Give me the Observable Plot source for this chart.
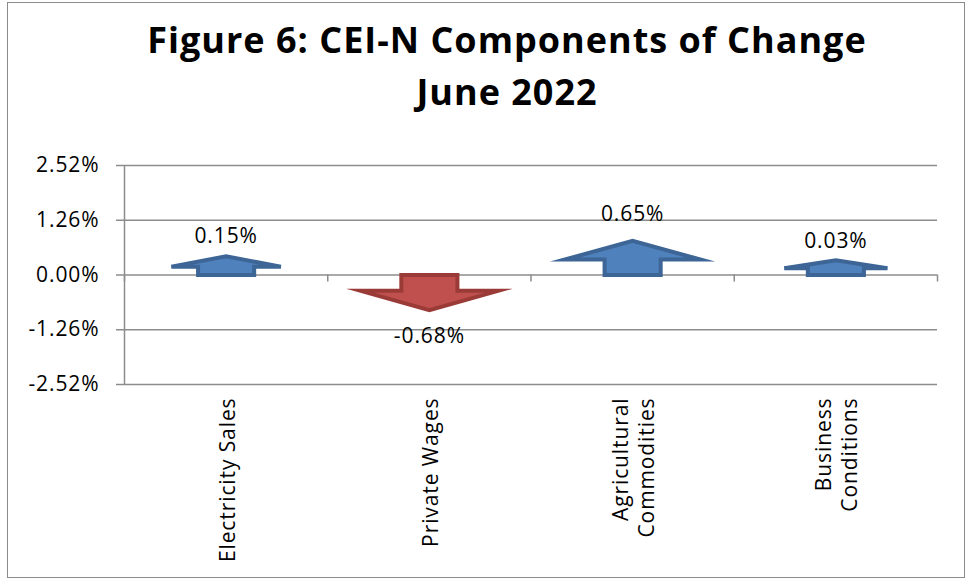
<!DOCTYPE html>
<html>
<head>
<meta charset="utf-8">
<script src="https://cdn.jsdelivr.net/npm/d3@7"></script>
<script src="https://cdn.jsdelivr.net/npm/@observablehq/plot@0.6"></script>
<style>
  html, body { margin: 0; padding: 0; background: #fff; }
  #wrap { position: relative; width: 969px; height: 579px; overflow: hidden; font-family: "Open Sans", sans-serif; }
  #frame { position: absolute; left: 7px; top: 2px; width: 958px; height: 576px; border: 1px solid #8c8c8c; box-sizing: border-box; }
  #title { position: absolute; left: 0; top: 14px; width: 1014px; text-align: center; font-weight: bold; font-size: 36px; letter-spacing: 1px; line-height: 52px; color: #000; }
  #chart { position: absolute; left: 0; top: 130px; }
</style>
</head>
<body>
<div id="wrap">
  <div id="frame"></div>
  <div id="title">Figure 6: CEI-N Components of Change<br>June 2022</div>
  <div id="chart"></div>
</div>
<script>
const categories = ["Electricity Sales", "Private Wages", "Agricultural Commodities", "Business Conditions"];
const tickLabels = ["Electricity Sales", "Private Wages", "Agricultural\nCommodities", "Business\nConditions"];
const values = [0.15, -0.68, 0.65, 0.03];
const yTicks = [-2.52, -1.26, 0, 1.26, 2.52];

// Build block-arrow outlines from each value (decorative shape scaled by value)
const arrows = [];
values.forEach((v, i) => {
  const s = v >= 0 ? 1 : -1, a = Math.abs(v), c = i + 0.5;
  const tip = s * (0.32 + 0.72 * a);
  const base = tip - s * 0.55 * Math.abs(tip);
  const hh = 0.25 + 0.13 * a, hs = 0.138;
  const pts = [[c - hs, 0], [c - hs, base], [c - hh, base], [c, tip], [c + hh, base], [c + hs, base], [c + hs, 0]];
  pts.forEach(([x, y]) => arrows.push({cat: categories[i], up: v >= 0, x, y}));
});

const table = categories.map((c, i) => ({cat: c, x: i + 0.5, v: values[i]}));
const pxPerUnit = 219 / 5.04;
const fs = 21;

const chart = Plot.plot({
  width: 969,
  height: 449,
  marginTop: 35,
  marginBottom: 195,
  marginLeft: 124,
  marginRight: 32,
  style: {fontFamily: "'Open Sans', sans-serif", letterSpacing: "0.9px", color: "#000", background: "transparent", overflow: "visible"},
  x: {domain: [0, categories.length], axis: null},
  y: {domain: [-2.52, 2.52], axis: null},
  marks: [
    Plot.ruleY(yTicks, {stroke: "#8c8c8c", strokeWidth: 1.5}),
    Plot.ruleX([0], {y1: -2.52, y2: 2.52, stroke: "#8c8c8c", strokeWidth: 1.5}),
    Plot.ruleX(d3.range(categories.length + 1), {y1: 0, y2: -7 / pxPerUnit, stroke: "#8c8c8c", strokeWidth: 1.5}),
    Plot.axisY({ticks: yTicks, tickFormat: d => d.toFixed(2) + "%", tickSize: 8, tickPadding: 17, stroke: "#8c8c8c", strokeWidth: 1.5, fill: "#000", fontSize: fs, label: null}),
    Plot.line(arrows.filter(d => d.up), {x: "x", y: "y", z: "cat", curve: "linear-closed", fill: "#4F81BD", stroke: "#3D6596", strokeWidth: 4, strokeLinejoin: "miter", strokeMiterlimit: 10}),
    Plot.line(arrows.filter(d => !d.up), {x: "x", y: "y", z: "cat", curve: "linear-closed", fill: "#C0504D", stroke: "#9B3B38", strokeWidth: 4, strokeLinejoin: "miter", strokeMiterlimit: 10}),
    Plot.text(table.filter(d => d.v >= 0), {x: "x", y: "v", text: d => d.v.toFixed(2) + "%", dy: -32, fontSize: fs, fill: "#000"}),
    Plot.text(table.filter(d => d.v < 0), {x: "x", y: "v", text: d => d.v.toFixed(2) + "%", dy: 32, fontSize: fs, fill: "#000"}),
    Plot.axisX({ticks: table.map(d => d.x), tickFormat: (d) => tickLabels[Math.floor(d)], tickSize: 0, tickPadding: 13, tickRotate: -90, fontSize: fs, fill: "#000", lineHeight: 1.25, label: null})
  ]
});
document.getElementById("chart").appendChild(chart);
</script>
</body>
</html>
